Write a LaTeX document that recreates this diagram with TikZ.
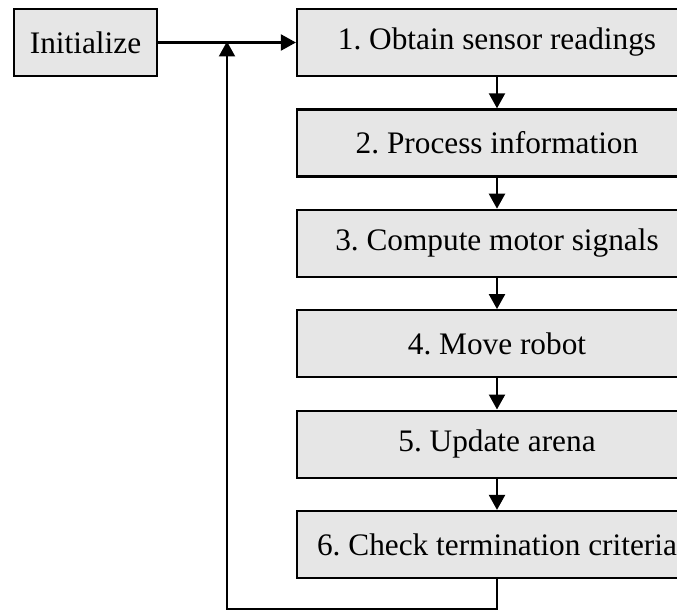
\documentclass[tikz,border=0pt]{standalone}
\usepackage{fontspec}
\setmainfont{Liberation Serif}
\frenchspacing
\usetikzlibrary{arrows.meta}
\definecolor{boxgray}{HTML}{E6E6E6}
\tikzset{
  stepbox/.style={draw=black, line width=2.2pt, fill=boxgray, minimum width=400pt,
    minimum height=67pt, inner sep=0pt, font=\fontsize{31.3}{35}\selectfont},
  initbox/.style={stepbox, minimum width=143pt},
  flow/.style={line width=2.2pt, -{Triangle[width=16pt,length=15pt]}},
}
\begin{document}
\begin{tikzpicture}[x=1pt,y=-1pt]
  \useasboundingbox (0,0) rectangle (677,610);
  \clip (0,0) rectangle (677,610);
  \node[initbox] (init) at (85.5,42.5) {Initialize};
  \node[stepbox] (s1) at (497,42.5) {1. Obtain sensor readings};
  \node[stepbox] (s2) at (497,142.9) {2. Process information};
  \node[stepbox] (s3) at (497,243.3) {3. Compute motor signals};
  \node[stepbox] (s4) at (497,343.7) {4. Move robot};
  \node[stepbox] (s5) at (497,444.1) {5. Update arena};
  \node[stepbox] (s6) at (497,544.5) {6. Check termination criteria};
  \coordinate (join) at (227,42.5);
  \draw[flow] (init) -- (s1);
  \draw[flow] (s1) -- (s2);
  \draw[flow] (s2) -- (s3);
  \draw[flow] (s3) -- (s4);
  \draw[flow] (s4) -- (s5);
  \draw[flow] (s5) -- (s6);
  \draw[flow] (s6.south) -- ++(0,30) -| ([yshift=1pt]join);
\end{tikzpicture}
\end{document}
